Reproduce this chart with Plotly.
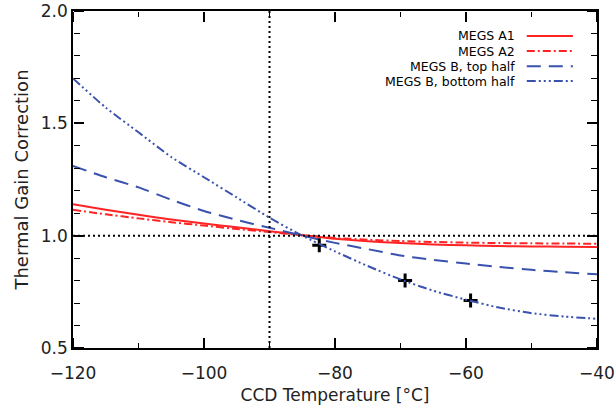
import plotly.graph_objects as go

# CCD temperature grid [deg C]
temperature = [-120, -115, -110, -105, -100, -95, -90, -85, -80,
               -75, -70, -65, -60, -55, -50, -45, -40]

# thermal gain correction
megs_a1 = [1.140, 1.115, 1.093, 1.072, 1.054, 1.037, 1.020, 1.003, 0.986,
           0.975, 0.967, 0.961, 0.957, 0.954, 0.952, 0.951, 0.950]
megs_a2 = [1.115, 1.095, 1.077, 1.060, 1.045, 1.030, 1.016, 1.002, 0.990,
           0.982, 0.976, 0.972, 0.969, 0.967, 0.966, 0.965, 0.964]
megs_b_top = [1.310, 1.260, 1.215, 1.160, 1.110, 1.070, 1.035, 1.000, 0.968,
              0.940, 0.912, 0.892, 0.876, 0.861, 0.848, 0.837, 0.828]
megs_b_bottom = [1.700, 1.570, 1.460, 1.350, 1.260, 1.170, 1.080, 1.000, 0.930,
                 0.865, 0.805, 0.755, 0.715, 0.680, 0.655, 0.640, 0.630]

# measured points on the bottom-half curve
meas_temp = [-82.4, -69.3, -59.3]
meas_gain = [0.957, 0.800, 0.711]

X_RANGE = [-120, -40]
Y_RANGE = [0.5, 2.0]

RED = "#ff2323"
BLUE = "#3a52ae"

# name, values, colour, dash, axes pair (all pairs share the same ranges;
# the extra pairs only exist to carry the inward ticks)
series = [
    ("MEGS A1", megs_a1, RED, "solid", ("x", "y")),
    ("MEGS A2", megs_a2, RED, "8px,3px,2px,3px", ("x", "y")),
    ("MEGS B, top half", megs_b_top, BLUE, "14px,8px", ("x", "y")),
    ("MEGS B, bottom half", megs_b_bottom, BLUE,
     "9px,3px,2px,3px,2px,3px,2px,3px", ("x3", "y3")),
]

fig = go.Figure()

# reference lines (unity gain, -90 C)
fig.add_shape(type="line", x0=-120, x1=-40, y0=1.0, y1=1.0,
              xref="x", yref="y",
              line=dict(color="black", width=2, dash="2px,3px"))
fig.add_shape(type="line", x0=-90, x1=-90, y0=0, y1=1,
              xref="x", yref="paper",
              line=dict(color="black", width=2, dash="2px,3px"))

for name, values, color, dash, (xa, ya) in series:
    fig.add_trace(
        go.Scatter(
            x=temperature,
            y=values,
            mode="lines",
            name=name,
            xaxis=xa,
            yaxis=ya,
            line=dict(color=color, width=2, dash=dash, shape="spline",
                      smoothing=0.6),
            showlegend=False,
        )
    )

fig.add_trace(
    go.Scatter(
        x=meas_temp,
        y=meas_gain,
        mode="markers",
        xaxis="x2",
        yaxis="y2",
        marker=dict(symbol="cross-thin", size=10,
                    line=dict(color="black", width=3)),
        showlegend=False,
    )
)

# legend drawn IDL style: label on the left, line sample on the right
legend_rows = [0.926, 0.881, 0.836, 0.792]
for (name, values, color, dash, _), row in zip(series, legend_rows):
    fig.add_annotation(x=0.847, y=row, xref="paper", yref="paper",
                       text=name, showarrow=False, xanchor="right",
                       yanchor="middle",
                       font=dict(family="DejaVu Sans", size=12.5,
                                 color="black"))
    fig.add_shape(type="line", x0=0.866, x1=0.954, y0=row, y1=row,
                  xref="paper", yref="paper",
                  line=dict(color=color, width=2, dash=dash))

tick_font = dict(family="DejaVu Sans", size=17, color="#222")

# main axes: frame + labels
fig.update_layout(
    xaxis=dict(
        range=X_RANGE, dtick=20, tick0=-120,
        showline=True, linecolor="black", linewidth=1.5, mirror=True,
        ticks="", showgrid=False, zeroline=False, automargin=False,
        ticklabelstandoff=9, tickfont=tick_font,
        title=dict(text="CCD Temperature [°C]", standoff=7,
                   font=dict(family="DejaVu Sans", size=17, color="#222")),
    ),
    yaxis=dict(
        range=Y_RANGE, dtick=0.5, tick0=0.5, tickformat=".1f",
        showline=True, linecolor="black", linewidth=1.5, mirror=True,
        ticks="", showgrid=False, zeroline=False, automargin=False,
        ticklabelstandoff=0, tickfont=tick_font,
        title=dict(text="Thermal Gain Correction", standoff=8,
                   font=dict(family="DejaVu Sans", size=18, color="#222")),
    ),
)

# inward-pointing ticks on all four sides, via tick-only overlay axes
tick_only = dict(
    anchor="free", ticks="outside", ticklen=10, tickwidth=1.5,
    tickcolor="black", showticklabels=False, showline=False,
    showgrid=False, zeroline=False, automargin=False,
)
x_ticks = dict(range=X_RANGE, dtick=20, tick0=-120, overlaying="x",
               minor=dict(dtick=10, ticks="outside", ticklen=5,
                          tickwidth=1.2, tickcolor="black"),
               **tick_only)
y_ticks = dict(range=Y_RANGE, dtick=0.5, tick0=0.5, overlaying="y",
               minor=dict(dtick=0.1, ticks="outside", ticklen=6,
                          tickwidth=1.2, tickcolor="black"),
               **tick_only)

fig.update_layout(
    xaxis2=dict(side="top", position=0, **x_ticks),
    xaxis3=dict(side="bottom", position=1, **x_ticks),
    yaxis2=dict(side="right", position=0, **y_ticks),
    yaxis3=dict(side="left", position=1, **y_ticks),
    width=616,
    height=407,
    margin=dict(l=73, r=19, t=11, b=59),
    # transparent plot area so nothing sits over the inward ticks
    plot_bgcolor="rgba(0,0,0,0)",
    paper_bgcolor="white",
    showlegend=False,
)

# drop the page's default body margin so the figure sits at the corner
fig.write_html("out.html", config={"displayModeBar": False},
               post_script="document.body.style.margin = '0';")
